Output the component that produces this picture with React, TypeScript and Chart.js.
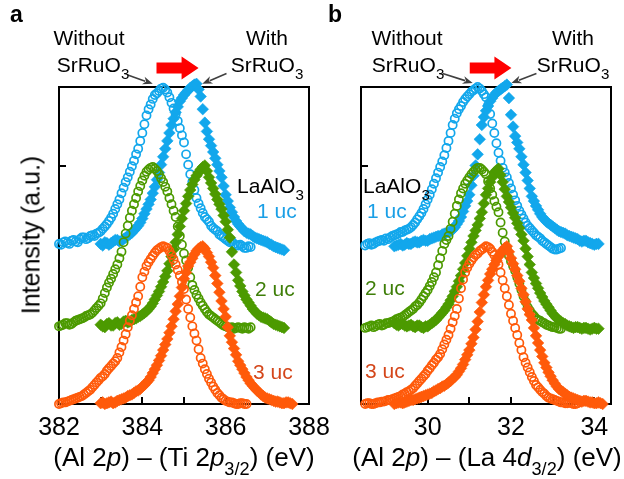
import React, { useEffect, useRef } from 'react';
import { Chart, registerables } from 'chart.js';

Chart.register(...registerables);

const FONT = "'Liberation Sans', Arial, Helvetica, sans-serif";
const _ = null;

// ---------- Panel a: (Al 2p) - (Ti 2p3/2) energy grid (eV) ----------
const ENERGY_A = [
  382.00, 382.05, 382.10, 382.15, 382.20, 382.25, 382.30, 382.35, 382.40, 382.45,
  382.50, 382.55, 382.60, 382.65, 382.70, 382.75, 382.80, 382.85, 382.90, 382.95,
  383.00, 383.05, 383.10, 383.15, 383.20, 383.25, 383.30, 383.35, 383.40, 383.45,
  383.50, 383.55, 383.60, 383.65, 383.70, 383.75, 383.80, 383.85, 383.90, 383.95,
  384.00, 384.05, 384.10, 384.15, 384.20, 384.25, 384.30, 384.35, 384.40, 384.45,
  384.50, 384.55, 384.60, 384.65, 384.70, 384.75, 384.80, 384.85, 384.90, 384.95,
  385.00, 385.05, 385.10, 385.15, 385.20, 385.25, 385.30, 385.35, 385.40, 385.45,
  385.50, 385.55, 385.60, 385.65, 385.70, 385.75, 385.80, 385.85, 385.90, 385.95,
  386.00, 386.05, 386.10, 386.15, 386.20, 386.25, 386.30, 386.35, 386.40, 386.45,
  386.50, 386.55, 386.60, 386.65, 386.70, 386.75, 386.80, 386.85, 386.90, 386.95,
  387.00, 387.05, 387.10, 387.15, 387.20, 387.25, 387.30, 387.35, 387.40, 387.45,
  387.50, 387.55, 387.60,
];
const A_1UC_WITHOUT = [
  2.02, 2.01, 2.04, 2.05, 2.03, 2.02, 2.06, 2.07, 2.05, 2.04,
  2.08, 2.10, 2.10, 2.08, 2.09, 2.12, 2.13, 2.12, 2.15, 2.16,
  2.18, 2.21, 2.24, 2.27, 2.31, 2.35, 2.40, 2.46, 2.52, 2.58,
  2.66, 2.73, 2.80, 2.86, 2.93, 3.00, 3.07, 3.15, 3.22, 3.32,
  3.42, 3.53, 3.64, 3.72, 3.78, 3.85, 3.90, 3.92, 3.95, 3.98,
  3.99, 3.97, 3.93, 3.87, 3.80, 3.73, 3.66, 3.57, 3.48, 3.39,
  3.30, 3.15, 3.02, 2.90, 2.80, 2.70, 2.60, 2.53, 2.47, 2.41,
  2.36, 2.33, 2.30, 2.25, 2.22, 2.20, 2.18, 2.14, 2.12, 2.10,
  2.08, 2.06, 2.04, 2.05, 2.02, 2.00, 2.00, 2.01, 1.99, 1.97,
  1.97, 1.99, 1.98, _, _, _, _, _, _, _,
  _, _, _, _, _, _, _, _, _, _,
  _, _, _,
];
const A_1UC_WITH = [
  _, _, _, _, _, _, _, _, _, _,
  _, _, _, _, _, _, _, _, _, _,
  2.02, 2.00, 2.04, 2.03, 2.01, 2.03, 2.05, 2.07, 2.07, 2.05,
  2.06, 2.08, 2.10, 2.12, 2.14, 2.16, 2.19, 2.22, 2.25, 2.29,
  2.34, 2.40, 2.46, 2.52, 2.58, 2.66, 2.74, 2.83, 2.92, 3.02,
  3.12, 3.22, 3.32, 3.42, 3.52, 3.60, 3.68, 3.75, 3.82, 3.86,
  3.90, 3.93, 3.96, 3.99, 4.01, 4.03, 4.04, 3.97, 3.88, 3.72,
  3.55, 3.44, 3.34, 3.26, 3.18, 3.10, 3.02, 2.94, 2.86, 2.75,
  2.64, 2.56, 2.48, 2.42, 2.36, 2.31, 2.27, 2.24, 2.21, 2.18,
  2.16, 2.15, 2.14, 2.12, 2.10, 2.09, 2.08, 2.07, 2.06, 2.05,
  2.04, 2.02, 2.01, 1.99, 1.98, 1.97, 1.96, 1.95, 1.94, _,
  _, _, _,
];
const A_2UC_WITHOUT = [
  0.98, 0.99, 1.00, 1.02, 1.02, 1.00, 1.01, 1.03, 1.05, 1.06,
  1.07, 1.08, 1.09, 1.11, 1.12, 1.13, 1.15, 1.18, 1.21, 1.24,
  1.27, 1.33, 1.40, 1.47, 1.53, 1.58, 1.64, 1.70, 1.76, 1.84,
  1.92, 2.04, 2.15, 2.25, 2.35, 2.44, 2.52, 2.60, 2.68, 2.75,
  2.82, 2.88, 2.93, 2.96, 2.98, 2.99, 2.97, 2.94, 2.90, 2.85,
  2.80, 2.74, 2.68, 2.60, 2.52, 2.44, 2.36, 2.24, 2.12, 2.01,
  1.90, 1.81, 1.72, 1.60, 1.50, 1.44, 1.38, 1.33, 1.28, 1.24,
  1.20, 1.16, 1.13, 1.11, 1.09, 1.07, 1.05, 1.03, 1.01, 0.99,
  0.98, 0.97, 0.96, 0.97, 0.95, 0.96, 0.97, 0.96, 0.95, 0.97,
  0.96, 0.95, 0.97, _, _, _, _, _, _, _,
  _, _, _, _, _, _, _, _, _, _,
  _, _, _,
];
const A_2UC_WITH = [
  _, _, _, _, _, _, _, _, _, _,
  _, _, _, _, _, _, _, _, _, _,
  1.00, 0.98, 0.97, 1.01, 1.02, 0.99, 0.99, 1.02, 1.03, 1.00,
  1.01, 1.04, 1.05, 1.03, 1.04, 1.06, 1.07, 1.08, 1.10, 1.11,
  1.13, 1.15, 1.17, 1.20, 1.23, 1.27, 1.32, 1.37, 1.42, 1.48,
  1.54, 1.61, 1.68, 1.77, 1.86, 1.95, 2.04, 2.14, 2.24, 2.34,
  2.44, 2.53, 2.62, 2.70, 2.77, 2.83, 2.88, 2.92, 2.96, 2.99,
  3.01, 2.94, 2.86, 2.79, 2.72, 2.65, 2.58, 2.52, 2.46, 2.38,
  2.30, 2.20, 2.10, 1.92, 1.76, 1.66, 1.56, 1.49, 1.42, 1.37,
  1.32, 1.28, 1.24, 1.20, 1.17, 1.14, 1.12, 1.10, 1.09, 1.08,
  1.07, 1.05, 1.03, 1.01, 1.00, 0.99, 0.98, 0.97, 0.96, _,
  _, _, _,
];
const A_3UC_WITHOUT = [
  0.00, 0.01, 0.02, 0.02, 0.03, 0.04, 0.05, 0.06, 0.07, 0.08,
  0.09, 0.10, 0.12, 0.14, 0.16, 0.18, 0.21, 0.24, 0.27, 0.30,
  0.33, 0.35, 0.38, 0.42, 0.45, 0.48, 0.51, 0.54, 0.58, 0.65,
  0.72, 0.80, 0.88, 0.97, 1.05, 1.12, 1.20, 1.28, 1.36, 1.48,
  1.60, 1.67, 1.74, 1.79, 1.83, 1.87, 1.91, 1.94, 1.96, 1.98,
  1.99, 1.98, 1.97, 1.93, 1.88, 1.82, 1.76, 1.69, 1.62, 1.54,
  1.45, 1.32, 1.20, 1.09, 0.98, 0.89, 0.80, 0.69, 0.58, 0.51,
  0.44, 0.38, 0.32, 0.27, 0.22, 0.18, 0.14, 0.11, 0.08, 0.06,
  0.04, 0.03, 0.02, 0.02, 0.01, 0.00, 0.00, 0.01, 0.01, 0.00,
  0.00, _, _, _, _, _, _, _, _, _,
  _, _, _, _, _, _, _, _, _, _,
  _, _, _,
];
const A_3UC_WITH = [
  _, _, _, _, _, _, _, _, _, _,
  _, _, _, _, _, _, _, _, _, _,
  0.01, 0.02, 0.00, 0.01, 0.02, 0.03, 0.01, 0.02, 0.04, 0.05,
  0.06, 0.07, 0.08, 0.10, 0.11, 0.12, 0.14, 0.16, 0.17, 0.19,
  0.22, 0.24, 0.27, 0.30, 0.34, 0.39, 0.44, 0.49, 0.55, 0.61,
  0.68, 0.75, 0.82, 0.90, 0.98, 1.07, 1.17, 1.26, 1.36, 1.47,
  1.58, 1.66, 1.74, 1.79, 1.84, 1.89, 1.93, 1.96, 1.98, 1.99,
  1.96, 1.91, 1.86, 1.79, 1.72, 1.62, 1.52, 1.41, 1.30, 1.20,
  1.10, 0.97, 0.86, 0.78, 0.70, 0.62, 0.54, 0.49, 0.44, 0.39,
  0.34, 0.30, 0.26, 0.23, 0.20, 0.17, 0.15, 0.12, 0.10, 0.08,
  0.07, 0.06, 0.05, 0.04, 0.03, 0.03, 0.02, 0.01, 0.01, 0.02,
  0.02, 0.01, 0.00,
];
const X_TICKS_A = [382, 383, 384, 385, 386, 387, 388];
const X_LABELS_A = [382, 384, 386, 388];

// ---------- Panel b: (Al 2p) - (La 4d3/2) energy grid (eV) ----------
const ENERGY_B = [
  28.50, 28.55, 28.60, 28.65, 28.70, 28.75, 28.80, 28.85, 28.90, 28.95,
  29.00, 29.05, 29.10, 29.15, 29.20, 29.25, 29.30, 29.35, 29.40, 29.45,
  29.50, 29.55, 29.60, 29.65, 29.70, 29.75, 29.80, 29.85, 29.90, 29.95,
  30.00, 30.05, 30.10, 30.15, 30.20, 30.25, 30.30, 30.35, 30.40, 30.45,
  30.50, 30.55, 30.60, 30.65, 30.70, 30.75, 30.80, 30.85, 30.90, 30.95,
  31.00, 31.05, 31.10, 31.15, 31.20, 31.25, 31.30, 31.35, 31.40, 31.45,
  31.50, 31.55, 31.60, 31.65, 31.70, 31.75, 31.80, 31.85, 31.90, 31.95,
  32.00, 32.05, 32.10, 32.15, 32.20, 32.25, 32.30, 32.35, 32.40, 32.45,
  32.50, 32.55, 32.60, 32.65, 32.70, 32.75, 32.80, 32.85, 32.90, 32.95,
  33.00, 33.05, 33.10, 33.15, 33.20, 33.25, 33.30, 33.35, 33.40, 33.45,
  33.50, 33.55, 33.60, 33.65, 33.70, 33.75, 33.80, 33.85, 33.90, 33.95,
  34.00, 34.05, 34.10, 34.15, 34.20,
];
const B_1UC_WITHOUT = [
  2.00, 2.02, 2.03, 2.01, 2.02, 2.04, 2.05, 2.06, 2.07, 2.06,
  2.09, 2.08, 2.10, 2.12, 2.13, 2.14, 2.15, 2.17, 2.17, 2.19,
  2.20, 2.21, 2.23, 2.26, 2.29, 2.33, 2.37, 2.41, 2.46, 2.52,
  2.58, 2.64, 2.71, 2.78, 2.85, 2.92, 2.99, 3.06, 3.14, 3.23,
  3.32, 3.42, 3.52, 3.60, 3.67, 3.72, 3.76, 3.81, 3.85, 3.88,
  3.91, 3.94, 3.96, 3.98, 4.00, 3.98, 3.95, 3.91, 3.87, 3.77,
  3.66, 3.54, 3.42, 3.29, 3.17, 3.07, 2.98, 2.92, 2.86, 2.79,
  2.72, 2.64, 2.57, 2.50, 2.44, 2.39, 2.34, 2.29, 2.25, 2.22,
  2.19, 2.16, 2.13, 2.11, 2.09, 2.06, 2.04, 2.02, 2.00, 1.98,
  1.96, 1.95, 1.95, 1.96, 1.97, _, _, _, _, _,
  _, _, _, _, _, _, _, _, _, _,
  _, _, _, _, _,
];
const B_1UC_WITH = [
  _, _, _, _, _, _, _, _, _, _,
  _, _, _, _, 1.99, 2.00, 2.01, 2.02, 2.00, 2.01,
  2.03, 2.02, 2.02, 2.04, 2.05, 2.04, 2.04, 2.06, 2.07, 2.06,
  2.06, 2.08, 2.09, 2.10, 2.11, 2.12, 2.12, 2.14, 2.15, 2.16,
  2.17, 2.18, 2.20, 2.23, 2.27, 2.31, 2.36, 2.43, 2.50, 2.56,
  2.64, 2.76, 2.88, 3.01, 3.15, 3.34, 3.52, 3.62, 3.70, 3.76,
  3.82, 3.86, 3.90, 3.93, 3.95, 3.97, 3.99, 4.01, 4.03, 3.86,
  3.65, 3.50, 3.38, 3.30, 3.22, 3.12, 3.02, 2.92, 2.82, 2.72,
  2.62, 2.56, 2.50, 2.45, 2.40, 2.36, 2.33, 2.30, 2.28, 2.26,
  2.24, 2.22, 2.20, 2.18, 2.17, 2.16, 2.15, 2.13, 2.12, 2.11,
  2.10, 2.09, 2.08, 2.06, 2.05, 2.06, 2.06, 2.04, 2.03, 2.02,
  2.01, 2.02, 2.02, _, _,
];
const B_2UC_WITHOUT = [
  0.96, 0.97, 0.98, 0.99, 0.97, 0.98, 1.00, 1.01, 0.99, 1.00,
  1.02, 1.02, 1.03, 1.04, 1.05, 1.07, 1.08, 1.09, 1.10, 1.12,
  1.14, 1.16, 1.18, 1.20, 1.23, 1.25, 1.28, 1.32, 1.36, 1.40,
  1.44, 1.49, 1.54, 1.60, 1.66, 1.75, 1.84, 1.93, 2.02, 2.07,
  2.12, 2.21, 2.30, 2.40, 2.50, 2.58, 2.66, 2.72, 2.78, 2.82,
  2.86, 2.90, 2.93, 2.96, 2.98, 2.98, 2.96, 2.93, 2.90, 2.81,
  2.72, 2.64, 2.56, 2.49, 2.42, 2.29, 2.16, 2.05, 1.95, 1.87,
  1.80, 1.74, 1.68, 1.60, 1.52, 1.44, 1.36, 1.29, 1.22, 1.18,
  1.14, 1.11, 1.08, 1.06, 1.05, 1.03, 1.02, 1.00, 0.99, 0.98,
  0.97, 0.97, 0.96, 0.95, 0.95, _, _, _, _, _,
  _, _, _, _, _, _, _, _, _, _,
  _, _, _, _, _,
];
const B_2UC_WITH = [
  _, _, _, _, _, _, _, _, _, _,
  _, _, _, _, 1.02, 1.00, 0.99, 1.01, 1.01, 0.99,
  0.98, 0.99, 1.00, 0.98, 0.97, 0.99, 0.99, 0.97, 0.96, 0.98,
  0.98, 1.00, 1.02, 1.04, 1.06, 1.09, 1.12, 1.15, 1.18, 1.22,
  1.26, 1.31, 1.36, 1.42, 1.48, 1.55, 1.62, 1.70, 1.78, 1.87,
  1.96, 2.04, 2.12, 2.19, 2.26, 2.34, 2.42, 2.53, 2.64, 2.72,
  2.80, 2.86, 2.92, 2.95, 2.97, 2.89, 2.80, 2.71, 2.62, 2.55,
  2.48, 2.41, 2.35, 2.28, 2.22, 2.14, 2.06, 1.96, 1.86, 1.76,
  1.66, 1.59, 1.52, 1.46, 1.40, 1.35, 1.30, 1.26, 1.22, 1.18,
  1.14, 1.11, 1.08, 1.06, 1.04, 1.02, 1.01, 0.99, 0.98, 0.97,
  0.96, 0.97, 0.97, 0.96, 0.95, 0.96, 0.96, 0.95, 0.94, 0.95,
  0.96, 0.95, 0.95, _, _,
];
const B_3UC_WITHOUT = [
  0.00, 0.01, 0.01, 0.00, 0.00, 0.01, 0.02, 0.02, 0.03, 0.03,
  0.04, 0.05, 0.05, 0.06, 0.07, 0.08, 0.09, 0.10, 0.12, 0.13,
  0.15, 0.16, 0.18, 0.20, 0.23, 0.26, 0.29, 0.32, 0.35, 0.38,
  0.42, 0.45, 0.49, 0.52, 0.56, 0.59, 0.63, 0.69, 0.75, 0.81,
  0.87, 0.95, 1.03, 1.11, 1.20, 1.33, 1.46, 1.57, 1.66, 1.72,
  1.77, 1.81, 1.85, 1.88, 1.90, 1.93, 1.95, 1.97, 1.99, 1.98,
  1.96, 1.92, 1.88, 1.82, 1.76, 1.66, 1.56, 1.46, 1.36, 1.25,
  1.14, 1.05, 0.96, 0.87, 0.77, 0.68, 0.59, 0.52, 0.46, 0.40,
  0.34, 0.29, 0.24, 0.21, 0.18, 0.15, 0.13, 0.10, 0.08, 0.07,
  0.06, 0.05, 0.04, 0.03, 0.02, 0.02, 0.01, 0.01, 0.02, 0.01,
  0.00, 0.00, 0.01, _, _, _, _, _, _, _,
  _, _, _, _, _,
];
const B_3UC_WITH = [
  _, _, _, _, _, _, _, _, _, _,
  _, _, _, _, 0.00, 0.01, 0.02, 0.02, 0.01, 0.02,
  0.03, 0.04, 0.05, 0.05, 0.06, 0.07, 0.08, 0.09, 0.10, 0.11,
  0.12, 0.13, 0.14, 0.16, 0.17, 0.19, 0.20, 0.22, 0.23, 0.25,
  0.27, 0.29, 0.32, 0.34, 0.37, 0.41, 0.45, 0.50, 0.56, 0.62,
  0.68, 0.76, 0.84, 0.94, 1.04, 1.16, 1.28, 1.38, 1.48, 1.56,
  1.64, 1.70, 1.76, 1.81, 1.86, 1.90, 1.94, 1.97, 1.99, 1.92,
  1.84, 1.77, 1.70, 1.62, 1.55, 1.46, 1.38, 1.29, 1.20, 1.13,
  1.06, 0.96, 0.86, 0.77, 0.68, 0.60, 0.52, 0.46, 0.40, 0.35,
  0.30, 0.26, 0.22, 0.19, 0.17, 0.15, 0.13, 0.11, 0.09, 0.08,
  0.07, 0.06, 0.05, 0.04, 0.03, 0.04, 0.04, 0.03, 0.02, 0.02,
  0.01, 0.01, 0.02, 0.01, 0.00,
];
const X_TICKS_B = [29, 30, 31, 32, 33, 34];
const X_LABELS_B = [30, 32, 34];

const Y_TICKS = [3];

// ---------- styles ----------
const BLUE = '#12A7EC';
const GREEN = '#4C9A00';
const ORANGE = '#FF5A0A';
const TXT_BLUE = '#1A9FE6';
const TXT_GREEN = '#3E7E08';
const TXT_ORANGE = '#D4461A';

const H = 479;
const PLOT_TOP = 87;
const PLOT_BOTTOM = 404;

function pairs(energy: number[], values: (number | null)[]) {
  const out: { x: number; y: number }[] = [];
  for (let i = 0; i < energy.length; i++) {
    const v = values[i];
    if (v !== null && v !== undefined) out.push({ x: energy[i], y: v });
  }
  return out;
}

function circles(label: string, data: any[], color: string) {
  return {
    label, data, pointStyle: 'circle', pointRadius: 4.1, pointBorderWidth: 1.7,
    pointBackgroundColor: 'rgba(255,255,255,0)', pointBorderColor: color,
    showLine: false, clip: false,
  };
}
function diamonds(label: string, data: any[], color: string) {
  return {
    label, data, pointStyle: 'rectRot', pointRadius: 5.8, pointBorderWidth: 0.6,
    pointBackgroundColor: color, pointBorderColor: color,
    showLine: false, clip: false,
  };
}

const shiftArrows = {
  id: 'shiftArrows',
  afterDatasetsDraw(chart: any, _args: any, opts: any) {
    const { ctx } = chart;
    const xs = chart.scales.x;
    const ys = chart.scales.y;
    const P = (e: number, v: number) => [xs.getPixelForValue(e), ys.getPixelForValue(v)];
    ctx.save();
    const [x0, y0] = P(opts.red[0], opts.red[2]);
    const [x1] = P(opts.red[1], opts.red[2]);
    const hl = 17, bh = 5.5, hh = 11.5;
    ctx.fillStyle = '#FF0000';
    ctx.beginPath();
    ctx.moveTo(x0, y0 - bh);
    ctx.lineTo(x1 - hl, y0 - bh);
    ctx.lineTo(x1 - hl, y0 - hh);
    ctx.lineTo(x1, y0);
    ctx.lineTo(x1 - hl, y0 + hh);
    ctx.lineTo(x1 - hl, y0 + bh);
    ctx.lineTo(x0, y0 + bh);
    ctx.closePath();
    ctx.fill();
    ctx.strokeStyle = '#404040';
    ctx.fillStyle = '#404040';
    ctx.lineWidth = 1.6;
    for (const a of opts.pointers) {
      const [tx, ty] = P(a[0], a[1]);
      const [hx, hy] = P(a[2], a[3]);
      const ang = Math.atan2(hy - ty, hx - tx);
      const L = 10, W = 4;
      const bx = hx - L * Math.cos(ang), by = hy - L * Math.sin(ang);
      ctx.beginPath();
      ctx.moveTo(tx, ty);
      ctx.lineTo(bx + 2 * Math.cos(ang), by + 2 * Math.sin(ang));
      ctx.stroke();
      ctx.beginPath();
      ctx.moveTo(hx, hy);
      ctx.lineTo(bx + W * Math.sin(ang), by - W * Math.cos(ang));
      ctx.lineTo(bx + 0.3 * L * Math.cos(ang), by + 0.3 * L * Math.sin(ang));
      ctx.lineTo(bx - W * Math.sin(ang), by + W * Math.cos(ang));
      ctx.closePath();
      ctx.fill();
    }
    ctx.restore();
  },
};

type PanelProps = {
  left: number; width: number; padLeft: number; padRight: number;
  xMin: number; xMax: number; xTicks: number[]; xLabels: number[];
  datasets: any[]; red: number[]; pointers: number[][];
};

function Panel(p: PanelProps) {
  const ref = useRef<HTMLCanvasElement>(null);
  useEffect(() => {
    const tickGrid = {
      display: true, drawOnChartArea: false, drawTicks: true,
      tickLength: -7, lineWidth: 2, color: '#000',
    };
    const border = { display: true, width: 2, color: '#000' };
    const chart = new Chart(ref.current as HTMLCanvasElement, {
      type: 'scatter',
      data: { datasets: p.datasets },
      options: {
        animation: false,
        responsive: false,
        events: [],
        layout: { padding: { left: p.padLeft, right: p.padRight, top: PLOT_TOP, bottom: 0 } },
        plugins: {
          legend: { display: false },
          tooltip: { enabled: false },
          shiftArrows: { red: p.red, pointers: p.pointers },
        } as any,
        scales: {
          x: {
            type: 'linear', position: 'bottom', min: p.xMin, max: p.xMax,
            afterBuildTicks: (s: any) => { s.ticks = p.xTicks.map((v) => ({ value: v })); },
            afterFit: (s: any) => { s.height = H - PLOT_BOTTOM; s.paddingLeft = 0; s.paddingRight = 0; },
            ticks: {
              autoSkip: false, maxRotation: 0, minRotation: 0, padding: 16, color: '#000',
              font: { family: FONT, size: 25 },
              callback: (v: any) => (p.xLabels.includes(Number(v)) ? String(v) : ''),
            },
            grid: tickGrid, border,
          },
          y: {
            type: 'linear', position: 'left', min: 0, max: 4,
            afterBuildTicks: (s: any) => { s.ticks = Y_TICKS.map((v) => ({ value: v })); },
            afterFit: (s: any) => { s.width = 0; s.paddingTop = 0; s.paddingBottom = 0; },
            ticks: { display: false },
            grid: tickGrid, border,
          },
          x2: {
            type: 'linear', position: 'top', min: p.xMin, max: p.xMax,
            afterFit: (s: any) => { s.height = 0; s.paddingLeft = 0; s.paddingRight = 0; },
            ticks: { display: false }, grid: { display: false }, border,
          },
          y2: {
            type: 'linear', position: 'right', min: 0, max: 4,
            afterFit: (s: any) => { s.width = 0; s.paddingTop = 0; s.paddingBottom = 0; },
            ticks: { display: false }, grid: { display: false }, border,
          },
        } as any,
      },
      plugins: [shiftArrows as any],
    } as any);
    return () => chart.destroy();
  }, []);
  return (
    <canvas
      ref={ref}
      width={p.width}
      height={H}
      style={{ position: 'absolute', left: p.left, top: 0, width: p.width, height: H }}
    />
  );
}

function Txt(props: { x: number; base: number; size: number; color?: string; align?: 'left' | 'center'; bold?: boolean; children: any }) {
  const { x, base, size, color = '#000', align = 'left', bold = false, children } = props;
  return (
    <div
      style={{
        position: 'absolute', left: x, top: base - 0.8465 * size,
        fontFamily: FONT, fontSize: size, lineHeight: 1, color, whiteSpace: 'nowrap',
        fontWeight: bold ? 'bold' : 'normal',
        transform: align === 'center' ? 'translateX(-50%)' : undefined,
      }}
    >
      {children}
    </div>
  );
}

function Sub(props: { children: any; scale?: number; drop?: number }) {
  const { children, scale = 0.72, drop = 0.42 } = props;
  return (
    <span style={{ fontSize: `${scale}em`, position: 'relative', top: `${drop}em`, lineHeight: 1 }}>{children}</span>
  );
}

export default function App() {
  const dsA = [
    diamonds('3 uc with', pairs(ENERGY_A, A_3UC_WITH), ORANGE),
    circles('3 uc without', pairs(ENERGY_A, A_3UC_WITHOUT), ORANGE),
    diamonds('2 uc with', pairs(ENERGY_A, A_2UC_WITH), GREEN),
    circles('2 uc without', pairs(ENERGY_A, A_2UC_WITHOUT), GREEN),
    diamonds('1 uc with', pairs(ENERGY_A, A_1UC_WITH), BLUE),
    circles('1 uc without', pairs(ENERGY_A, A_1UC_WITHOUT), BLUE),
  ];
  const dsB = [
    diamonds('3 uc with', pairs(ENERGY_B, B_3UC_WITH), ORANGE),
    circles('3 uc without', pairs(ENERGY_B, B_3UC_WITHOUT), ORANGE),
    diamonds('2 uc with', pairs(ENERGY_B, B_2UC_WITH), GREEN),
    circles('2 uc without', pairs(ENERGY_B, B_2UC_WITHOUT), GREEN),
    diamonds('1 uc with', pairs(ENERGY_B, B_1UC_WITH), BLUE),
    circles('1 uc without', pairs(ENERGY_B, B_1UC_WITHOUT), BLUE),
  ];
  return (
    <div style={{ position: 'absolute', left: 0, top: 0, width: 624, height: H, background: '#fff', overflow: 'hidden' }}>
      <Panel
        left={0} width={345} padLeft={59} padRight={36}
        xMin={382} xMax={388} xTicks={X_TICKS_A} xLabels={X_LABELS_A}
        datasets={dsA}
        red={[384.34, 385.35, 4.24]}
        pointers={[[383.65, 4.15, 384.25, 4.04], [386.02, 4.17, 385.44, 4.04]]}
      />
      <Panel
        left={300} width={324} padLeft={61} padRight={13}
        xMin={28.4} xMax={34.4} xTicks={X_TICKS_B} xLabels={X_LABELS_B}
        datasets={dsB}
        red={[31.01, 32.01, 4.24]}
        pointers={[[30.36, 4.17, 31.08, 4.05], [32.61, 4.17, 32.01, 4.05]]}
      />

      <Txt x={10} base={22} size={23} bold>a</Txt>
      <Txt x={328} base={22} size={23} bold>b</Txt>

      <Txt x={89} base={45} size={21} align="center">Without</Txt>
      <Txt x={93} base={72} size={21} align="center">SrRuO<Sub>3</Sub></Txt>
      <Txt x={267} base={45} size={21} align="center">With</Txt>
      <Txt x={267} base={72} size={21} align="center">SrRuO<Sub>3</Sub></Txt>

      <Txt x={407} base={45} size={21} align="center">Without</Txt>
      <Txt x={408} base={72} size={21} align="center">SrRuO<Sub>3</Sub></Txt>
      <Txt x={573} base={45} size={21} align="center">With</Txt>
      <Txt x={573} base={72} size={21} align="center">SrRuO<Sub>3</Sub></Txt>

      <Txt x={237} base={193} size={21}>LaAlO<Sub>3</Sub></Txt>
      <Txt x={257} base={218} size={21} color={TXT_BLUE}>1 uc</Txt>
      <Txt x={255} base={296} size={21} color={TXT_GREEN}>2 uc</Txt>
      <Txt x={253} base={379} size={21} color={TXT_ORANGE}>3 uc</Txt>

      <Txt x={363} base={193} size={21}>LaAlO<Sub>3</Sub></Txt>
      <Txt x={367} base={218} size={21} color={TXT_BLUE}>1 uc</Txt>
      <Txt x={365} base={295} size={21} color={TXT_GREEN}>2 uc</Txt>
      <Txt x={365} base={378} size={21} color={TXT_ORANGE}>3 uc</Txt>

      <div
        style={{
          position: 'absolute', left: 31, top: 235, fontFamily: FONT, fontSize: 25, lineHeight: 1,
          whiteSpace: 'nowrap', color: '#000', transform: 'translate(-50%, -50%) rotate(-90deg)',
        }}
      >
        Intensity (a.u.)
      </div>

      <Txt x={184} base={466} size={26} align="center">
        (Al 2<i>p</i>) – (Ti 2<i>p</i><Sub scale={0.7} drop={0.5}>3/2</Sub>) (eV)
      </Txt>
      <Txt x={487} base={466} size={26} align="center">
        (Al 2<i>p</i>) – (La 4<i>d</i><Sub scale={0.7} drop={0.5}>3/2</Sub>) (eV)
      </Txt>
    </div>
  );
}
